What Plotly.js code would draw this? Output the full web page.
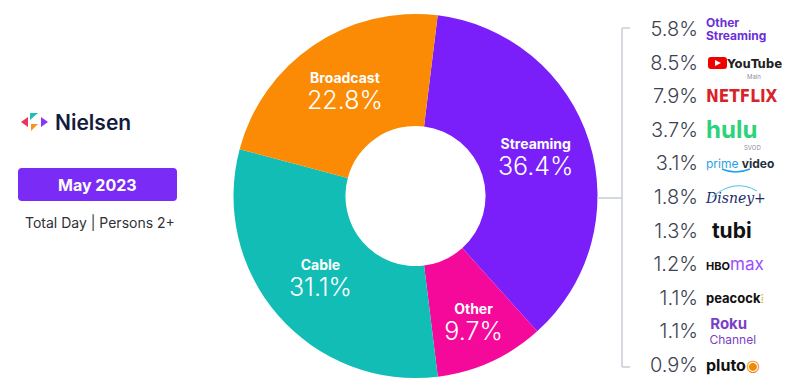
<!DOCTYPE html>
<html>
<head>
<meta charset="utf-8">
<script src="https://cdn.plot.ly/plotly-3.0.1.min.js"></script>
<style>
html,body{margin:0;padding:0;background:#fff;}
#chart{width:800px;height:382px;}
</style>
</head>
<body>
<div id="chart"></div>
<script>
// ---- data ----
const categories = ["Streaming", "Other", "Cable", "Broadcast"];
const shares = [36.4, 9.7, 31.1, 22.8];
const categoryColors = ["#7a1ffa", "#f5099a", "#12bdb6", "#fb8b05"];

const services = ["Other Streaming", "YouTube", "Netflix", "Hulu", "Prime Video", "Disney+", "Tubi", "HBO Max", "Peacock", "Roku Channel", "Pluto TV"];
const serviceShares = [5.8, 8.5, 7.9, 3.7, 3.1, 1.8, 1.3, 1.2, 1.1, 1.1, 0.9];
const serviceLogos = [
  "<span style='font-size:12px'><b>Other</b></span><br><span style='font-size:12px'><b>Streaming</b></span>",
  "\u2003\u2002 <b>YouTube</b>",
  "<b>NETFLIX</b>",
  "<b>hulu</b>",
  "<span style='color:#1fa3e6'>prime</span> <b>video</b>",
  "<i>Disney+</i>",
  " <b>tubi</b>",
  "<b style='color:#111;font-size:11px'>HBO</b><span style='color:#9b4dff'>max</span>",
  "<b>peacock</b><span style='color:#e9a400'>⁞</span>",
  "<span style='font-size:15px'> <b>Roku</b></span><br><span style='font-size:12px'> Channel</span>",
  "<b>pluto</b><span style='color:#f08a00'>◉</span>"
];
const logoColors = ["#6b2fd8", "#222", "#d9232b", "#2dd37b", "#222f3e", "#1b2c6b", "#111", "#9b4dff", "#111", "#7b3fc8", "#111"];
const logoSizes = [10.5, 13, 17, 24, 12, 14, 21, 17, 13, 12, 16];
const logoFonts = ["Inter", "DejaVu Sans Condensed, Liberation Sans", "DejaVu Sans Condensed, Liberation Sans", "Inter", "Inter", "DejaVu Serif", "Inter", "Inter", "Inter", "Inter", "Inter"];

const monthLabel = "May 2023";
const subLabel = "Total Day | Persons 2+";

// ---- helpers (pixel -> paper) ----
const W = 800, H = 382;
const px = x => x / W;
const py = y => 1 - y / H;

const rowIdx = services.map((_, i) => i);
const ROW0 = 31, ROWSTEP = 33.6;

const pie = {
  type: "pie",
  labels: categories,
  values: shares,
  marker: {colors: categoryColors, line: {width: 0}},
  sort: false,
  direction: "clockwise",
  rotation: 7,
  hole: 0.385,
  domain: {x: [px(233.5), px(597.5)], y: [py(378), py(14)]},
  textposition: "inside",
  insidetextorientation: "horizontal",
  texttemplate: "<span style='font-size:14px'><b>%{label}</b></span><br><span style='font-size:25px;font-weight:300'>%{value}%</span>",
  insidetextfont: {color: "#ffffff", family: "Inter", size: 20},
  hoverinfo: "skip",
  showlegend: false
};

const pctTrace = {
  type: "scatter",
  mode: "text",
  x: rowIdx.map(() => 698),
  y: rowIdx,
  text: serviceShares.map(v => v.toFixed(1) + "%"),
  textposition: "middle left",
  textfont: {family: "Inter", size: 20, color: "#3c4250", weight: 300},
  hoverinfo: "skip",
  showlegend: false,
  cliponaxis: false
};

const logoTrace = {
  type: "scatter",
  mode: "text",
  x: rowIdx.map(() => 706),
  y: rowIdx,
  text: serviceLogos,
  textposition: "middle right",
  textfont: {family: logoFonts, size: logoSizes, color: logoColors},
  hoverinfo: "skip",
  showlegend: false,
  cliponaxis: false
};

const line = {color: "#c9ccd4", width: 1.5};
const shapes = [
  // bracket
  {type: "line", xref: "paper", yref: "paper", x0: px(622), x1: px(622), y0: py(28), y1: py(367), line},
  {type: "line", xref: "paper", yref: "paper", x0: px(622), x1: px(630), y0: py(28), y1: py(28), line},
  {type: "line", xref: "paper", yref: "paper", x0: px(622), x1: px(630), y0: py(367), y1: py(367), line},
  {type: "line", xref: "paper", yref: "paper", x0: px(597), x1: px(622), y0: py(198), y1: py(198), line},
  // month badge (rounded rect)
  {type: "path", xref: "paper", yref: "paper", fillcolor: "#7a2cf6", line: {width: 0},
   path: `M ${px(22)} ${py(168)} L ${px(173)} ${py(168)} Q ${px(177)} ${py(168)} ${px(177)} ${py(172)} L ${px(177)} ${py(197)} Q ${px(177)} ${py(201)} ${px(173)} ${py(201)} L ${px(22)} ${py(201)} Q ${px(18)} ${py(201)} ${px(18)} ${py(197)} L ${px(18)} ${py(172)} Q ${px(18)} ${py(168)} ${px(22)} ${py(168)} Z`},
  // Nielsen mark
  {type: "path", xref: "paper", yref: "paper", fillcolor: "#f0325a", line: {width: 0},
   path: `M ${px(21)} ${py(122)} L ${px(28)} ${py(117)} L ${px(28)} ${py(127)} Z`},
  {type: "path", xref: "paper", yref: "paper", fillcolor: "#1fbfb5", line: {width: 0},
   path: `M ${px(30)} ${py(113)} L ${px(38)} ${py(113)} L ${px(30)} ${py(120)} Z`},
  {type: "path", xref: "paper", yref: "paper", fillcolor: "#f7931e", line: {width: 0},
   path: `M ${px(31)} ${py(124)} L ${px(38)} ${py(124)} L ${px(31)} ${py(131)} Z`},
  {type: "path", xref: "paper", yref: "paper", fillcolor: "#8b35f5", line: {width: 0},
   path: `M ${px(48)} ${py(122)} L ${px(41)} ${py(117)} L ${px(41)} ${py(127)} Z`},
  // YouTube play box
  {type: "path", xref: "paper", yref: "paper", fillcolor: "#f00000", line: {width: 0},
   path: `M ${px(711)} ${py(57)} L ${px(724)} ${py(57)} Q ${px(727)} ${py(57)} ${px(727)} ${py(60)} L ${px(727)} ${py(66)} Q ${px(727)} ${py(69)} ${px(724)} ${py(69)} L ${px(711)} ${py(69)} Q ${px(708)} ${py(69)} ${px(708)} ${py(66)} L ${px(708)} ${py(60)} Q ${px(708)} ${py(57)} ${px(711)} ${py(57)} Z`},
  {type: "path", xref: "paper", yref: "paper", fillcolor: "#ffffff", line: {width: 0},
   path: `M ${px(715)} ${py(60)} L ${px(721)} ${py(63)} L ${px(715)} ${py(66)} Z`},
  // prime smile
  {type: "path", xref: "paper", yref: "paper", line: {color: "#1fa3e6", width: 1.5},
   path: `M ${px(722)} ${py(169)} Q ${px(735)} ${py(175)} ${px(750)} ${py(169)}`},
  // disney arc
  {type: "path", xref: "paper", yref: "paper", line: {color: "#4fc3e6", width: 1},
   path: `M ${px(712)} ${py(197)} Q ${px(735)} ${py(178)} ${px(757)} ${py(191)}`}
];

const annotations = [
  {xref: "paper", yref: "paper", x: px(53), y: py(122), xanchor: "left", yanchor: "middle", showarrow: false,
   text: "Nielsen", font: {family: "Inter", size: 21, color: "#141b3c", weight: 600}},
  {xref: "paper", yref: "paper", x: px(97.5), y: py(185), xanchor: "center", yanchor: "middle", showarrow: false,
   text: "<b>" + monthLabel + "</b>", font: {family: "Inter", size: 16, color: "#ffffff"}},
  {xref: "paper", yref: "paper", x: px(100), y: py(222), xanchor: "center", yanchor: "middle", showarrow: false,
   text: subLabel, font: {family: "Inter", size: 14, color: "#2f3136"}},
  {xref: "paper", yref: "paper", x: px(763), y: py(77), xanchor: "right", yanchor: "middle", showarrow: false,
   text: "Main", font: {family: "Inter", size: 6, color: "#8a8fa0"}},
  {xref: "paper", yref: "paper", x: px(763), y: py(147), xanchor: "right", yanchor: "middle", showarrow: false,
   text: "SVOD", font: {family: "Inter", size: 6, color: "#8a8fa0"}}
];

const layout = {
  width: W, height: H,
  margin: {l: 0, r: 0, t: 0, b: 0},
  paper_bgcolor: "#ffffff",
  plot_bgcolor: "rgba(0,0,0,0)",
  xaxis: {domain: [0, 1], range: [0, W], visible: false, fixedrange: true},
  yaxis: {domain: [0, 1], range: [(H - ROW0) / ROWSTEP, -ROW0 / ROWSTEP], visible: false, fixedrange: true},
  shapes, annotations,
  showlegend: false
};

Plotly.newPlot("chart", [pie, pctTrace, logoTrace], layout, {displayModeBar: false, staticPlot: true});
</script>
</body>
</html>
